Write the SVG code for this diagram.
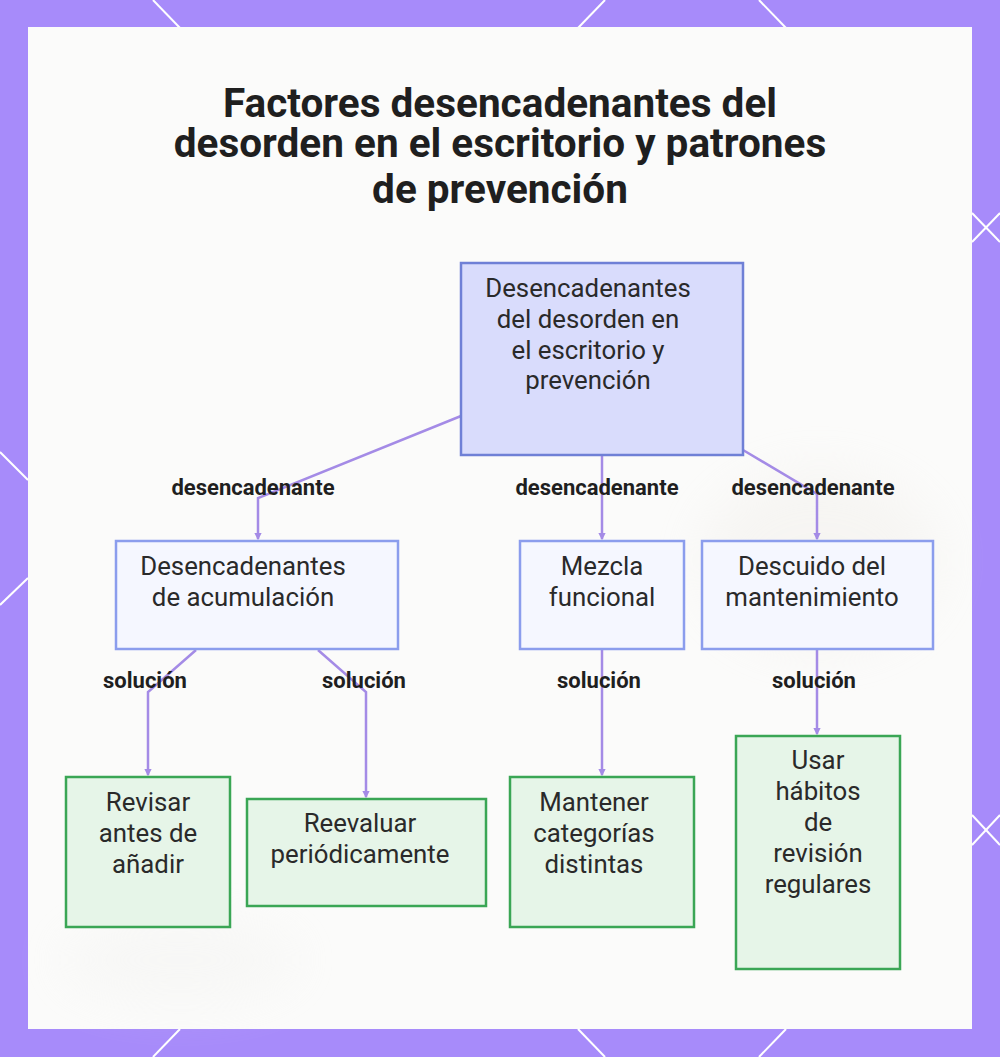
<svg xmlns="http://www.w3.org/2000/svg" width="1000" height="1057" viewBox="0 0 1000 1057">
<defs>
<style>
.title{font-family:Roboto,"Liberation Sans",sans-serif;font-weight:700;font-size:40.5px;fill:#1f1f1f;text-anchor:middle}
.nt{font-family:Roboto,"Liberation Sans",sans-serif;font-size:25.8px;fill:#2a2a2a;text-anchor:middle}
.lbl{font-family:Roboto,"Liberation Sans",sans-serif;font-weight:700;font-size:22px;fill:#1f1f1f;text-anchor:middle}
.root{fill:#d9dcfc;stroke:#6f80d6;stroke-width:2.5}
.mid{fill:#f5f7ff;stroke:#8b9ded;stroke-width:2.5}
.leaf{fill:#e6f5e8;stroke:#3aa655;stroke-width:2.5}
.edge{fill:none;stroke:#a48be6;stroke-width:2.5}
.deco{stroke:#ffffff;stroke-width:2;fill:none}
</style>
<marker id="arr" viewBox="0 0 6 6" refX="5" refY="3" markerWidth="3" markerHeight="3" orient="auto">
<path d="M0,0 L6,3 L0,6 z" fill="#a48be6"/>
</marker>
<filter id="blur" x="-50%" y="-50%" width="200%" height="200%"><feGaussianBlur stdDeviation="25"/></filter>
</defs>

<rect x="0" y="0" width="1000" height="1057" fill="#a78bfa"/>
<g class="deco">
<line x1="153" y1="0" x2="180" y2="28"/>
<line x1="605" y1="0" x2="578" y2="28"/>
<line x1="759" y1="0" x2="786" y2="28"/>
<line x1="153" y1="1057" x2="180" y2="1029"/>
<line x1="605" y1="1057" x2="578" y2="1029"/>
<line x1="759" y1="1057" x2="786" y2="1029"/>
<line x1="0" y1="452" x2="28" y2="480"/>
<line x1="28" y1="578" x2="0" y2="605"/>
<line x1="972" y1="213" x2="1000" y2="242"/>
<line x1="972" y1="242" x2="1000" y2="213"/>
<line x1="972" y1="815" x2="1000" y2="845"/>
<line x1="972" y1="845" x2="1000" y2="815"/>
</g>
<rect x="28" y="27" width="944" height="1002" fill="#fbfbfa"/>
<g filter="url(#blur)" opacity="0.3">
<ellipse cx="820" cy="560" rx="120" ry="90" fill="#ece8e2"/>
<ellipse cx="180" cy="960" rx="120" ry="40" fill="#eeeeec"/>
</g>

<text class="title"><tspan x="500" y="117">Factores desencadenantes del</tspan><tspan x="500" y="157">desorden en el escritorio y patrones</tspan><tspan x="500" y="203">de prevención</tspan></text>

<g id="connectors">
<path class="edge" d="M461,416 L258,498 L258,539" marker-end="url(#arr)"/>
<path class="edge" d="M602,455 L602,539" marker-end="url(#arr)"/>
<path class="edge" d="M743,450 L817,494 L817,539" marker-end="url(#arr)"/>
<path class="edge" d="M196,650 L148,692 L148,775" marker-end="url(#arr)"/>
<path class="edge" d="M318,650 L366,692 L366,797" marker-end="url(#arr)"/>
<path class="edge" d="M602,650 L602,775" marker-end="url(#arr)"/>
<path class="edge" d="M817,650 L817,734" marker-end="url(#arr)"/>
<text class="lbl" x="253" y="495">desencadenante</text>
<text class="lbl" x="597" y="495">desencadenante</text>
<text class="lbl" x="813" y="495">desencadenante</text>
<text class="lbl" x="145" y="688">solución</text>
<text class="lbl" x="364" y="688">solución</text>
<text class="lbl" x="599" y="688">solución</text>
<text class="lbl" x="814" y="688">solución</text>
</g>

<g id="root">
<rect class="root" x="461" y="263" width="282" height="192"/>
<text class="nt" x="588" y="297">Desencadenantes</text>
<text class="nt" x="588" y="328">del desorden en</text>
<text class="nt" x="588" y="359">el escritorio y</text>
<text class="nt" x="588" y="389">prevención</text>
</g>
<g id="acumulacion">
<rect class="mid" x="116" y="541" width="282" height="108"/>
<text class="nt" x="243" y="575">Desencadenantes</text>
<text class="nt" x="243" y="606">de acumulación</text>
</g>
<g id="mezcla">
<rect class="mid" x="520" y="541" width="164" height="108"/>
<text class="nt" x="602" y="575">Mezcla</text>
<text class="nt" x="602" y="606">funcional</text>
</g>
<g id="descuido">
<rect class="mid" x="702" y="541" width="231" height="108"/>
<text class="nt" x="812" y="575">Descuido del</text>
<text class="nt" x="812" y="606">mantenimiento</text>
</g>
<g id="revisar">
<rect class="leaf" x="66" y="777" width="164" height="150"/>
<text class="nt" x="148" y="811">Revisar</text>
<text class="nt" x="148" y="842">antes de</text>
<text class="nt" x="148" y="873">añadir</text>
</g>
<g id="reevaluar">
<rect class="leaf" x="247" y="799" width="239" height="107"/>
<text class="nt" x="360" y="832">Reevaluar</text>
<text class="nt" x="360" y="863">periódicamente</text>
</g>
<g id="mantener">
<rect class="leaf" x="510" y="777" width="184" height="150"/>
<text class="nt" x="594" y="811">Mantener</text>
<text class="nt" x="594" y="842">categorías</text>
<text class="nt" x="594" y="873">distintas</text>
</g>
<g id="usar">
<rect class="leaf" x="736" y="736" width="164" height="233"/>
<text class="nt" x="818" y="769">Usar</text>
<text class="nt" x="818" y="800">hábitos</text>
<text class="nt" x="818" y="831">de</text>
<text class="nt" x="818" y="862">revisión</text>
<text class="nt" x="818" y="893">regulares</text>
</g>
</svg>
